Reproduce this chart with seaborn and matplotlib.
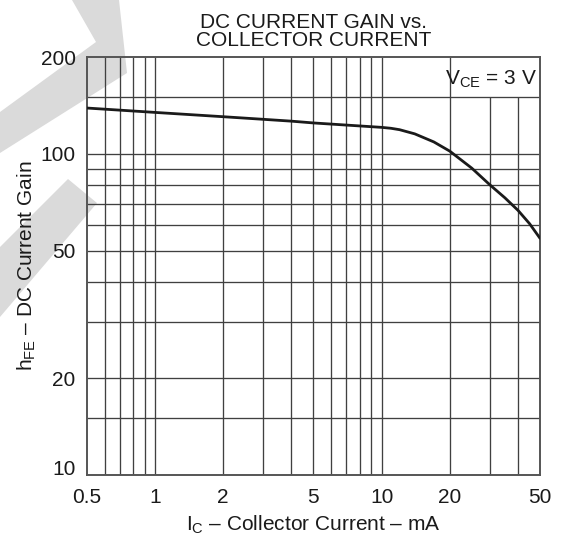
import numpy as np
import pandas as pd
import matplotlib
matplotlib.use("Agg")
import matplotlib.pyplot as plt
import matplotlib.transforms as mtransforms
from matplotlib.patches import Polygon
import seaborn as sns

# ---- data ----
ic_ma = [0.5, 1, 2, 3, 4, 5, 10, 11, 12, 14, 17, 20, 25, 30, 35, 40, 45, 50]
hfe = [139, 134.7, 130.6, 128.2, 126.5, 124.9, 121, 120.2, 119, 115.5, 109,
       102, 90.3, 80.2, 73, 66.7, 60.6, 54.6]

x_ticks = [0.5, 1, 2, 5, 10, 20, 50]
x_tick_labels = ["0.5", "1", "2", "5", "10", "20", "50"]
y_ticks = [10, 20, 50, 100, 200]
y_tick_labels = ["10", "20", "50", "100", "200"]
x_grid_full = [0.6, 0.7, 0.8, 0.9, 1, 2, 3, 4, 5, 6, 7, 8, 9, 10, 20]
x_grid_short = [30, 40]
y_grid = [15, 20, 30, 40, 50, 60, 70, 80, 90, 100, 150]
box_floor = 150

df = pd.DataFrame({"ic": ic_ma, "hfe": hfe})

sns.set_theme(style="white")
plt.rcParams["font.family"] = ["Liberation Sans", "DejaVu Sans"]
plt.rcParams["mathtext.fontset"] = "custom"
plt.rcParams["mathtext.rm"] = "Liberation Sans"
plt.rcParams["mathtext.it"] = "Liberation Sans"

fig = plt.figure(figsize=(5.66, 5.42), dpi=100)
fig.patch.set_facecolor("white")

# light grey watermark strokes behind everything (figure pixel coords, y from top)
W, H = 566, 542
def figpoly(pts):
    return Polygon([(x / W, 1 - y / H) for x, y in pts], closed=True,
                   transform=fig.transFigure, facecolor="#dadada",
                   edgecolor="none", zorder=-5)
fig.add_artist(figpoly([(72, 0), (119, 0), (127, 73), (0, 153), (0, 112), (96, 42)]))
fig.add_artist(figpoly([(68, 179), (97, 203), (0, 317), (0, 247)]))

ax = fig.add_axes([0.1532, 0.1236, 0.9541 - 0.1532, 0.8943 - 0.1236])
ax.set_facecolor("none")

ax.set_xscale("log")
ax.set_yscale("log")
ax.set_xlim(x_ticks[0], x_ticks[-1])
ax.set_ylim(y_ticks[0], y_ticks[-1])

grid_kw = dict(color="#404040", linewidth=0.95, zorder=1)
ax.vlines(x_grid_full, y_ticks[0], y_ticks[-1], **grid_kw)
ax.vlines(x_grid_short, y_ticks[0], box_floor, **grid_kw)
ax.hlines(y_grid, x_ticks[0], x_ticks[-1], **grid_kw)

sns.lineplot(data=df, x="ic", y="hfe", ax=ax, color="#1a1a1a",
             linewidth=2.0, zorder=3, legend=False)

ax.set_xticks(x_ticks)
ax.set_xticklabels(x_tick_labels)
ax.set_yticks(y_ticks)
ax.set_yticklabels(y_tick_labels)
ax.minorticks_off()
ax.tick_params(axis="both", length=0, labelsize=15, colors="#1a1a1a")
ax.tick_params(axis="y", pad=8)
ax.tick_params(axis="x", pad=9)

for s in ax.spines.values():
    s.set_visible(True)
    s.set_color("#555555")
    s.set_linewidth(1.4)

ax.set_xlabel(r"I$_{\mathrm{C}}$ – Collector Current – mA", fontsize=15,
              color="#1a1a1a", labelpad=5)
ax.set_ylabel(r"h$_{\mathrm{FE}}$ – DC Current Gain", fontsize=15,
              color="#1a1a1a", labelpad=2)
ax.set_title("DC CURRENT GAIN vs.\nCOLLECTOR CURRENT", fontsize=15,
             color="#1a1a1a", linespacing=0.95, pad=8)

ax.text(0.993, 0.946, r"V$_{\mathrm{CE}}$ = 3 V", transform=ax.transAxes,
        ha="right", va="center", fontsize=15, color="#1a1a1a", zorder=4)

# nudge the lowest y tick label upward, as in the reference
for lab in ax.get_yticklabels():
    if lab.get_text() == "10":
        lab.set_transform(lab.get_transform() +
                          mtransforms.ScaledTranslation(0, 0.08, fig.dpi_scale_trans))

fig.savefig("out.png", dpi=100, facecolor="white")
